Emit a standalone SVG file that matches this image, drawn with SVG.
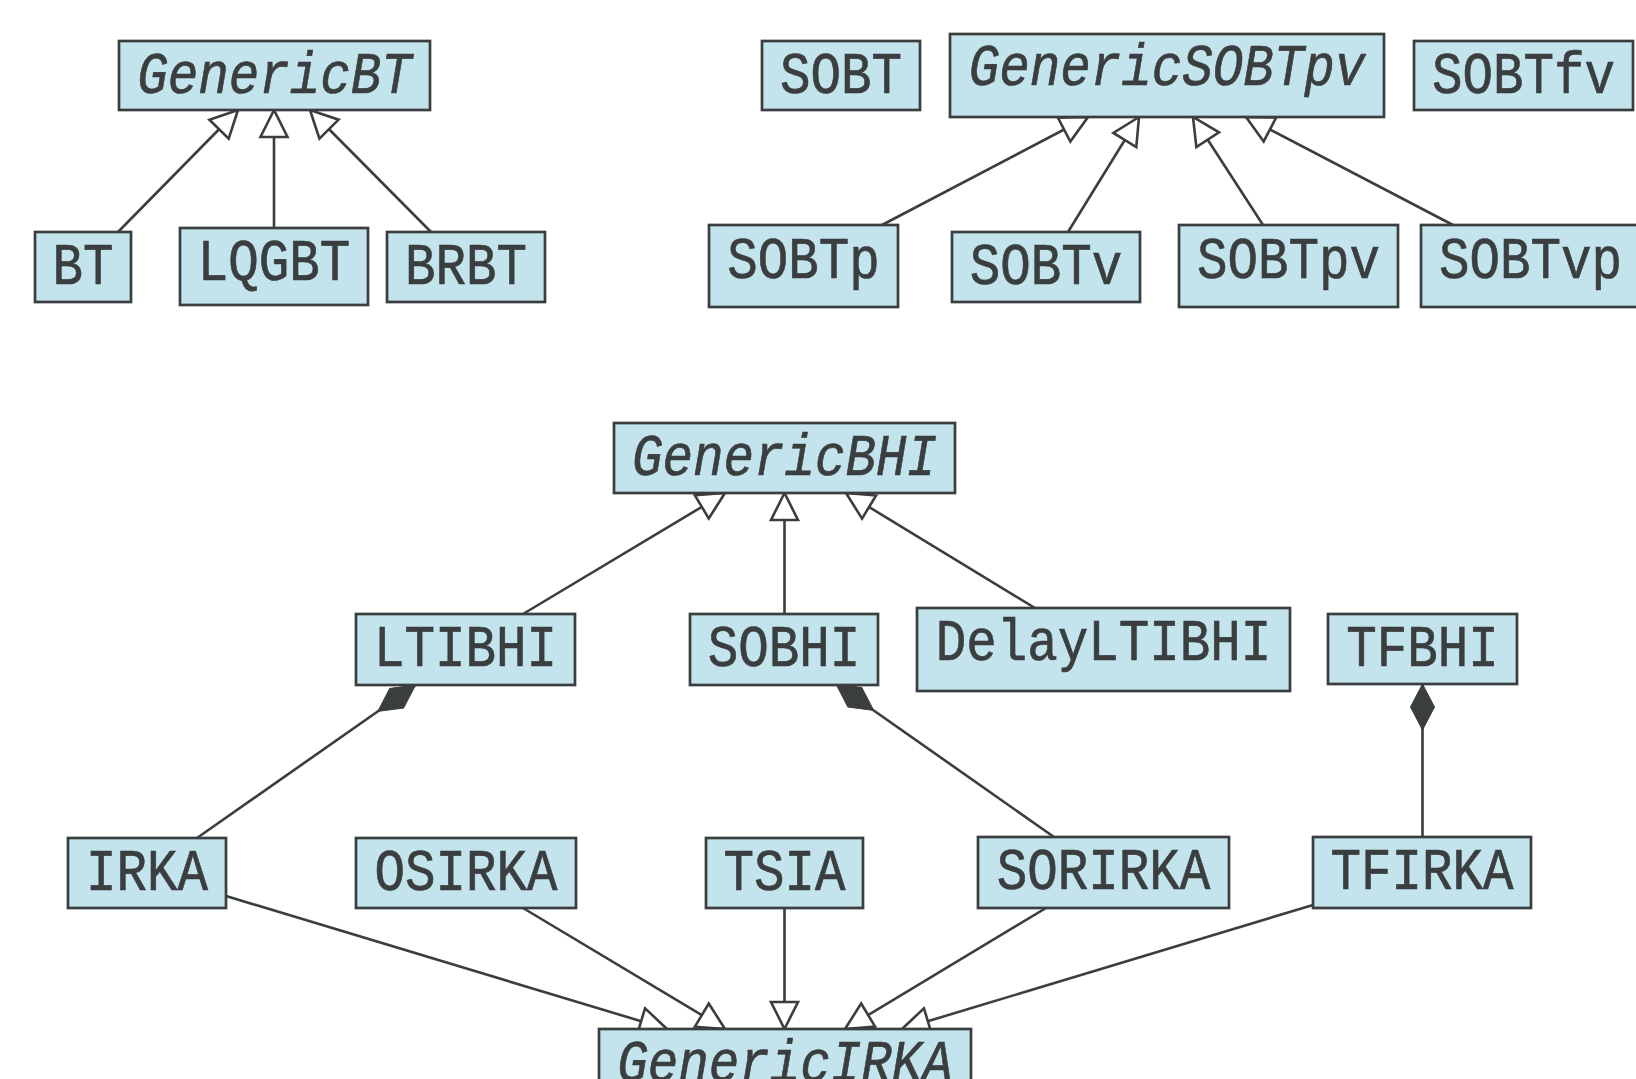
<svg xmlns="http://www.w3.org/2000/svg" width="1636" height="1079" viewBox="0 0 1636 1079">
<style>
.box{fill:#c3e4ec;stroke:#3a3e3f;stroke-width:2.7}
.lbl{font-family:"Liberation Mono","Courier New",monospace;font-size:59px;fill:#3a3e3f;stroke:#3a3e3f;stroke-width:0.7;text-anchor:middle}
.it{font-style:italic}
.e{fill:none;stroke:#3a3e3f;stroke-width:2.6}
.inh{marker-end:url(#tri)}
.cmp{marker-end:url(#dia)}
</style>
<defs>
<marker id="tri" markerUnits="userSpaceOnUse" orient="auto" refX="0" refY="0" markerWidth="40" markerHeight="40" overflow="visible">
<path d="M0,0 L-27,-13.5 L-27,13.5 Z" fill="#ffffff" stroke="#3a3e3f" stroke-width="2.6"/>
</marker>
<marker id="dia" markerUnits="userSpaceOnUse" orient="auto" refX="0" refY="0" markerWidth="60" markerHeight="40" overflow="visible">
<path d="M0,0 L-23,-12 L-46,0 L-23,12 Z" fill="#3a3e3f" stroke="#3a3e3f" stroke-width="1"/>
</marker>
</defs>
<rect width="1636" height="1079" fill="#ffffff"/>
<g id="connectors">
<path class="e inh" d="M118,232 L238,110"/>
<path class="e inh" d="M274,228 L274,110"/>
<path class="e inh" d="M431,232 L310,110"/>
<path class="e inh" d="M882,225 L1088,117"/>
<path class="e inh" d="M1068,232 L1139,117"/>
<path class="e inh" d="M1263,225 L1193,117"/>
<path class="e inh" d="M1453,225 L1246,117"/>
<path class="e inh" d="M523,614 L725,493"/>
<path class="e inh" d="M784.5,614 L784.5,493"/>
<path class="e inh" d="M1035,608 L846,493"/>
<path class="e inh" d="M226,896 L667,1029"/>
<path class="e inh" d="M523,908 L725,1029"/>
<path class="e inh" d="M784.5,908 L784.5,1029"/>
<path class="e inh" d="M1046,908 L845,1029"/>
<path class="e inh" d="M1313,905 L902,1029"/>
<path class="e cmp" d="M197,838 L415.5,685"/>
<path class="e cmp" d="M1054,837 L836,684"/>
<path class="e cmp" d="M1422.5,837 L1422.5,684"/>
</g>
<g id="GenericBT"><rect class="box" x="119" y="41" width="311" height="69"/><text class="lbl it" x="274.5" y="92.5" textLength="274.5" lengthAdjust="spacingAndGlyphs">GenericBT</text></g>
<g id="BT"><rect class="box" x="35" y="232" width="96" height="70"/><text class="lbl" x="83" y="283.5" textLength="61" lengthAdjust="spacingAndGlyphs">BT</text></g>
<g id="LQGBT"><rect class="box" x="180" y="228" width="188" height="77"/><text class="lbl" x="274" y="280" textLength="152.5" lengthAdjust="spacingAndGlyphs">LQGBT</text></g>
<g id="BRBT"><rect class="box" x="387" y="232" width="158" height="70"/><text class="lbl" x="466" y="283.5" textLength="122" lengthAdjust="spacingAndGlyphs">BRBT</text></g>
<g id="SOBT"><rect class="box" x="762" y="41" width="158" height="69"/><text class="lbl" x="841" y="92.5" textLength="122" lengthAdjust="spacingAndGlyphs">SOBT</text></g>
<g id="GenericSOBTpv"><rect class="box" x="950" y="34" width="434" height="83"/><text class="lbl it" x="1167" y="85" textLength="396.5" lengthAdjust="spacingAndGlyphs">GenericSOBTpv</text></g>
<g id="SOBTfv"><rect class="box" x="1414" y="41" width="219" height="69"/><text class="lbl" x="1523.5" y="92.5" textLength="183" lengthAdjust="spacingAndGlyphs">SOBTfv</text></g>
<g id="SOBTp"><rect class="box" x="709" y="225" width="189" height="82"/><text class="lbl" x="803.5" y="277.5" textLength="152.5" lengthAdjust="spacingAndGlyphs">SOBTp</text></g>
<g id="SOBTv"><rect class="box" x="952" y="232" width="188" height="70"/><text class="lbl" x="1046" y="283.5" textLength="152.5" lengthAdjust="spacingAndGlyphs">SOBTv</text></g>
<g id="SOBTpv"><rect class="box" x="1179" y="225" width="219" height="82"/><text class="lbl" x="1288.5" y="277.5" textLength="183" lengthAdjust="spacingAndGlyphs">SOBTpv</text></g>
<g id="SOBTvp"><rect class="box" x="1421" y="225" width="219" height="82"/><text class="lbl" x="1530.5" y="277.5" textLength="183" lengthAdjust="spacingAndGlyphs">SOBTvp</text></g>
<g id="GenericBHI"><rect class="box" x="614" y="423" width="341" height="70"/><text class="lbl it" x="784.5" y="474.5" textLength="305" lengthAdjust="spacingAndGlyphs">GenericBHI</text></g>
<g id="LTIBHI"><rect class="box" x="356" y="614" width="219" height="71"/><text class="lbl" x="465.5" y="665.5" textLength="183" lengthAdjust="spacingAndGlyphs">LTIBHI</text></g>
<g id="SOBHI"><rect class="box" x="690" y="614" width="188" height="71"/><text class="lbl" x="784" y="665.5" textLength="152.5" lengthAdjust="spacingAndGlyphs">SOBHI</text></g>
<g id="DelayLTIBHI"><rect class="box" x="917" y="608" width="373" height="83"/><text class="lbl" x="1103.5" y="660" textLength="335.5" lengthAdjust="spacingAndGlyphs">DelayLTIBHI</text></g>
<g id="TFBHI"><rect class="box" x="1328" y="614" width="189" height="70"/><text class="lbl" x="1422.5" y="665.5" textLength="152.5" lengthAdjust="spacingAndGlyphs">TFBHI</text></g>
<g id="IRKA"><rect class="box" x="68" y="838" width="158" height="70"/><text class="lbl" x="147" y="889.5" textLength="122" lengthAdjust="spacingAndGlyphs">IRKA</text></g>
<g id="OSIRKA"><rect class="box" x="356" y="838" width="220" height="70"/><text class="lbl" x="466" y="889.5" textLength="183" lengthAdjust="spacingAndGlyphs">OSIRKA</text></g>
<g id="TSIA"><rect class="box" x="706" y="838" width="157" height="70"/><text class="lbl" x="784.5" y="889.5" textLength="122" lengthAdjust="spacingAndGlyphs">TSIA</text></g>
<g id="SORIRKA"><rect class="box" x="978" y="837" width="251" height="71"/><text class="lbl" x="1103.5" y="889" textLength="213.5" lengthAdjust="spacingAndGlyphs">SORIRKA</text></g>
<g id="TFIRKA"><rect class="box" x="1313" y="837" width="218" height="71"/><text class="lbl" x="1422" y="889" textLength="183" lengthAdjust="spacingAndGlyphs">TFIRKA</text></g>
<g id="GenericIRKA"><rect class="box" x="599" y="1029" width="372" height="80"/><text class="lbl it" x="785" y="1080.5" textLength="335.5" lengthAdjust="spacingAndGlyphs">GenericIRKA</text></g>
</svg>
